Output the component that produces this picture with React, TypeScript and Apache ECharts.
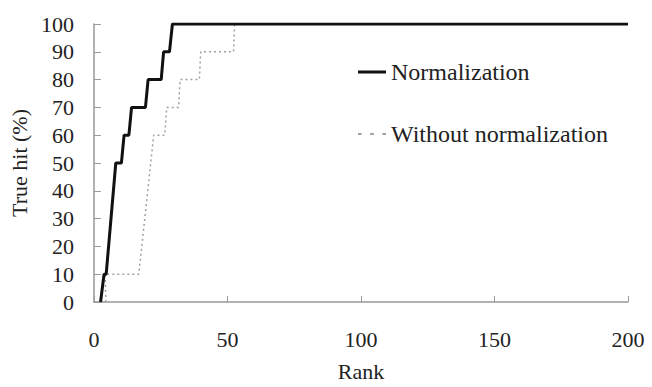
import React, { useEffect, useRef } from "react";
import * as echarts from "echarts";

const normRank = [2.5, 3.8, 4.6, 8.2, 10.3, 11.3, 13.1, 14.1, 19.3, 20.3, 25.2, 26.1, 28.3, 29.4, 200];
const normHit = [0, 10, 10, 50, 50, 60, 60, 70, 70, 80, 80, 90, 90, 100, 100];
const rawRank = [4.5, 4.2, 16.8, 22.4, 26.5, 27.3, 31.7, 32.3, 39.5, 40, 52.3, 52.7, 200];
const rawHit = [0, 10, 10, 60, 60, 70, 70, 80, 80, 90, 90, 100, 100];
const seriesNames = ["Normalization", "Without normalization"];

const FONT = "Times New Roman";

export default function App() {
  const ref = useRef<HTMLDivElement>(null);
  useEffect(() => {
    document.body.style.margin = "0";
    const chart = echarts.init(ref.current!, null, { renderer: "svg" });
    const zip = (xs: number[], ys: number[]) => xs.map((x, i) => [x, ys[i]]);
    chart.setOption({
      animation: false,
      backgroundColor: "#ffffff",
      textStyle: { fontFamily: FONT },
      grid: { left: 93, right: 24, top: 24, bottom: 78 },
      legend: {
        orient: "vertical",
        left: 353,
        top: 55,
        itemGap: 38,
        itemWidth: 28,
        itemHeight: 14,
        textStyle: { fontFamily: FONT, fontSize: 24, color: "#222" },
        data: [
          { name: seriesNames[0], icon: "path://M0,0h28v3h-28z" },
          {
            name: seriesNames[1],
            icon: "path://M1,0h3v1.5h-3z M11,0h3v1.5h-3z M21,0h3v1.5h-3z",
          },
        ],
      },
      xAxis: {
        type: "value",
        min: 0,
        max: 200,
        interval: 50,
        name: "Rank",
        nameLocation: "middle",
        nameGap: 58,
        nameTextStyle: { fontFamily: FONT, fontSize: 22, color: "#222" },
        axisLine: { onZero: false, lineStyle: { color: "#999", width: 1.5 } },
        axisTick: { show: true, inside: true, length: 6, lineStyle: { color: "#999" } },
        axisLabel: { fontFamily: FONT, fontSize: 22, color: "#222", margin: 26 },
        splitLine: { show: false },
      },
      yAxis: {
        type: "value",
        min: 0,
        max: 100,
        interval: 10,
        name: "True hit (%)",
        nameLocation: "middle",
        nameGap: 62,
        nameTextStyle: { fontFamily: FONT, fontSize: 22, color: "#222" },
        axisLine: { show: true, lineStyle: { color: "#999", width: 1.5 } },
        axisTick: { show: true, inside: true, length: 7, lineStyle: { color: "#999" } },
        axisLabel: { fontFamily: FONT, fontSize: 22, color: "#222", margin: 20 },
        splitLine: { show: false },
      },
      series: [
        {
          name: seriesNames[1],
          type: "line",
          symbol: "none",
          data: zip(rawRank, rawHit),
          lineStyle: { color: "#a0a0a0", width: 1.5, type: [2, 3] },
          itemStyle: { color: "#a0a0a0" },
          z: 2,
        },
        {
          name: seriesNames[0],
          type: "line",
          symbol: "none",
          data: zip(normRank, normHit),
          lineStyle: { color: "#111111", width: 3 },
          itemStyle: { color: "#111111" },
          z: 3,
        },
      ],
    });
    return () => chart.dispose();
  }, []);
  return <div ref={ref} style={{ width: 652, height: 387 }} />;
}
